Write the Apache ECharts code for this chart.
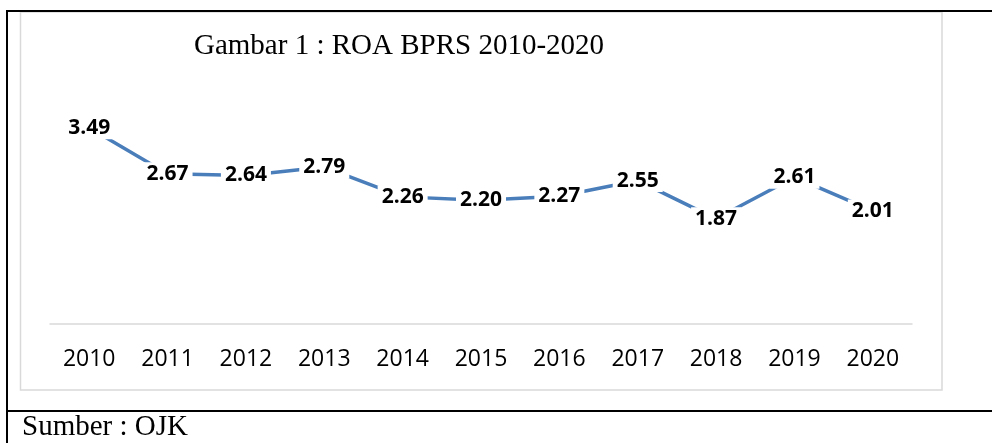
<!DOCTYPE html>
<html>
<head>
<meta charset="utf-8">
<script src="https://cdn.jsdelivr.net/npm/echarts@6/dist/echarts.min.js"></script>
<style>
  html, body { margin: 0; padding: 0; background: #fff; }
  #chart { width: 992px; height: 443px; }
</style>
</head>
<body>
<div id="chart"></div>
<script>
const years = ['2010', '2011', '2012', '2013', '2014', '2015', '2016', '2017', '2018', '2019', '2020'];
const roa = [3.49, 2.67, 2.64, 2.79, 2.26, 2.20, 2.27, 2.55, 1.87, 2.61, 2.01];
const titleText = 'Gambar 1 : ROA BPRS 2010-2020';
const sourceText = 'Sumber : OJK';

const chart = echarts.init(document.getElementById('chart'));

const options = {
  animation: false,
  backgroundColor: '#fff',
  title: {
    text: titleText,
    left: 194,
    top: 32,
    padding: 0,
    textStyle: {
      fontFamily: 'Liberation Serif',
      fontSize: 29,
      fontWeight: 'normal',
      color: '#000'
    }
  },
  grid: {
    left: 50,
    right: 80,
    top: 99,
    bottom: 119
  },
  xAxis: {
    type: 'category',
    data: years,
    boundaryGap: true,
    axisLine: { lineStyle: { color: '#d9d9d9', width: 1.5 } },
    axisTick: { show: false },
    axisLabel: {
      margin: 24,
      fontFamily: 'Open Sans',
      fontSize: 23,
      color: '#000'
    }
  },
  yAxis: {
    type: 'value',
    min: 0,
    max: 4,
    show: false,
    splitLine: { show: false }
  },
  series: [
    {
      type: 'line',
      data: roa,
      symbol: 'circle',
      symbolSize: 0,
      lineStyle: { color: '#4a7ebb', width: 3.5 },
      itemStyle: { color: '#4a7ebb' },
      label: {
        show: true,
        position: 'inside',
        formatter: p => p.value.toFixed(2),
        fontFamily: 'Open Sans',
        fontWeight: 'bold',
        fontSize: 21,
        color: '#000',
        backgroundColor: '#fff',
        padding: [1, 4]
      }
    }
  ],
  graphic: [
    // gray chart frame
    {
      type: 'rect',
      shape: { x: 20.5, y: 12, width: 921.5, height: 378 },
      style: { fill: 'none', stroke: '#d9d9d9', lineWidth: 1.5 },
      silent: true
    },
    // black table borders
    {
      type: 'line',
      shape: { x1: 6, y1: 11, x2: 992, y2: 11 },
      style: { stroke: '#000', lineWidth: 2 },
      silent: true
    },
    {
      type: 'line',
      shape: { x1: 7, y1: 10, x2: 7, y2: 443 },
      style: { stroke: '#000', lineWidth: 2 },
      silent: true
    },
    {
      type: 'line',
      shape: { x1: 6, y1: 411, x2: 992, y2: 411 },
      style: { stroke: '#000', lineWidth: 2 },
      silent: true
    },
    {
      type: 'text',
      x: 22,
      y: 413,
      style: {
        text: sourceText,
        font: '29px "Liberation Serif"',
        fill: '#000'
      },
      silent: true
    }
  ]
};

chart.setOption(options);
</script>
</body>
</html>
